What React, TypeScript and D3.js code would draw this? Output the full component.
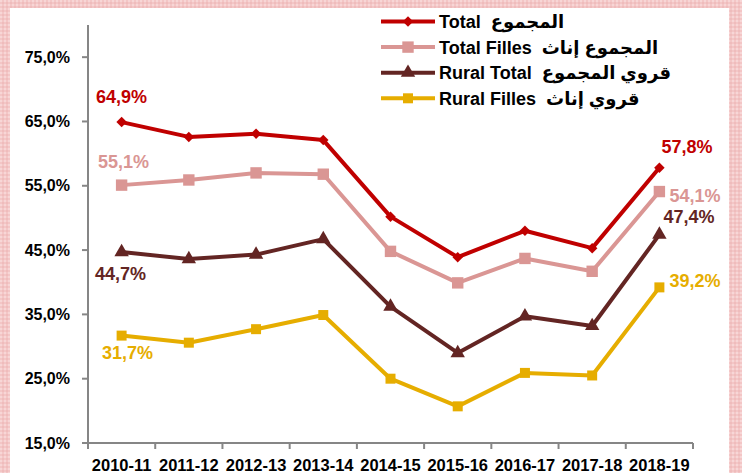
import React, { useEffect, useRef } from "react";
import * as d3 from "d3";

const years = ["2010-11", "2011-12", "2012-13", "2013-14", "2014-15", "2015-16", "2016-17", "2017-18", "2018-19"];
const total = [64.9, 62.6, 63.1, 62.1, 50.2, 43.9, 48.0, 45.3, 57.8];
const totalFilles = [55.1, 55.9, 57.0, 56.8, 44.8, 39.9, 43.7, 41.7, 54.1];
const ruralTotal = [44.7, 43.6, 44.3, 46.7, 36.2, 29.0, 34.7, 33.2, 47.4];
const ruralFilles = [31.7, 30.6, 32.7, 34.9, 25.0, 20.7, 25.9, 25.5, 39.2];
const yTicks = [15, 25, 35, 45, 55, 65, 75];

const seriesNames = ["Total  المجموع", "Total Filles  المجموع إناث", "Rural Total  قروي المجموع", "Rural Filles  قروي إناث"];

const fmt = (v: number) => v.toFixed(1).replace(".", ",") + "%";

const App = () => {
  const ref = useRef<SVGSVGElement>(null);

  useEffect(() => {
    const svg = d3.select(ref.current);
    svg.selectAll("*").remove();

    const W = 742, H = 473;
    const left = 88, right = 693, top = 25, bottom = 443;
    const font = "'Liberation Sans', 'DejaVu Sans', Arial, sans-serif";

    // pink textured frame
    const defs = svg.append("defs");
    const pat = defs.append("pattern").attr("id", "bgpat")
      .attr("width", 4).attr("height", 4).attr("patternUnits", "userSpaceOnUse");
    pat.append("rect").attr("width", 4).attr("height", 4).attr("fill", "#f3c6c6");
    pat.append("rect").attr("width", 2).attr("height", 2).attr("fill", "#f7d6d6");
    pat.append("rect").attr("x", 2).attr("y", 2).attr("width", 2).attr("height", 2).attr("fill", "#efbcbc");
    svg.append("rect").attr("width", W).attr("height", H).attr("fill", "url(#bgpat)");
    svg.append("rect").attr("x", 10).attr("y", 8).attr("width", 719).attr("height", H).attr("fill", "#fff");

    const x = d3.scaleBand().domain(years).range([left, right]);
    const y = d3.scaleLinear().domain([15, 80]).range([bottom, top]);
    const cx = (i: number) => (x(years[i]) as number) + x.bandwidth() / 2;

    // y axis
    svg.append("line").attr("x1", left).attr("x2", left).attr("y1", top).attr("y2", bottom)
      .attr("stroke", "#868686").attr("stroke-width", 2);
    yTicks.forEach(t => {
      svg.append("line").attr("x1", left - 6).attr("x2", left).attr("y1", y(t)).attr("y2", y(t))
        .attr("stroke", "#868686").attr("stroke-width", 2);
      svg.append("text").attr("x", 70).attr("y", y(t) + 5.5).attr("text-anchor", "end")
        .attr("font-family", font).attr("font-weight", "bold").attr("font-size", 16)
        .attr("fill", "#000").text(fmt(t));
    });

    // x axis
    svg.append("line").attr("x1", left).attr("x2", right).attr("y1", bottom).attr("y2", bottom)
      .attr("stroke", "#868686").attr("stroke-width", 2);
    years.forEach((yr, i) => {
      const x0 = x(yr) as number;
      svg.append("line").attr("x1", x0).attr("x2", x0).attr("y1", bottom).attr("y2", bottom + 6)
        .attr("stroke", "#868686").attr("stroke-width", 2);
      svg.append("text").attr("x", cx(i)).attr("y", 471).attr("text-anchor", "middle")
        .attr("font-family", font).attr("font-weight", "bold").attr("font-size", 16.5)
        .attr("fill", "#000").text(yr);
    });
    svg.append("line").attr("x1", right).attr("x2", right).attr("y1", bottom).attr("y2", bottom + 6)
      .attr("stroke", "#868686").attr("stroke-width", 2);

    const series = [
      { values: total, color: "#c00000", marker: d3.symbolDiamond2, size: 70, first: [0, -19, "middle"], last: [2, -15, "start"] },
      { values: totalFilles, color: "#da9694", marker: d3.symbolSquare, size: 130, first: [2, -17, "middle"], last: [10, 10, "start"] },
      { values: ruralTotal, color: "#632523", marker: d3.symbolTriangle, size: 90, first: [-1, 28, "middle"], last: [4, -12, "start"] },
      { values: ruralFilles, color: "#e6ad00", marker: d3.symbolSquare, size: 100, first: [6, 23, "middle"], last: [10, 0, "start"] },
    ];

    const line = d3.line<number>().x((d, i) => cx(i)).y(d => y(d));

    series.forEach(s => {
      svg.append("path").attr("d", line(s.values) as string).attr("fill", "none")
        .attr("stroke", s.color).attr("stroke-width", 4).attr("stroke-linejoin", "round");
      s.values.forEach((v, i) => {
        svg.append("path").attr("d", d3.symbol().type(s.marker).size(s.size)() as string)
          .attr("transform", `translate(${cx(i)},${y(v)})`).attr("fill", s.color);
      });
      const n = s.values.length - 1;
      [[0, s.first], [n, s.last]].forEach(([i, off]: any) => {
        svg.append("text").attr("x", cx(i) + off[0]).attr("y", y(s.values[i]) + off[1])
          .attr("text-anchor", off[2])
          .attr("font-family", font).attr("font-weight", "bold").attr("font-size", 18)
          .attr("fill", s.color).text(fmt(s.values[i]));
      });
    });

    // legend
    series.forEach((s, k) => {
      const ly = 21.5 + k * 25.6;
      svg.append("line").attr("x1", 381).attr("x2", 435).attr("y1", ly).attr("y2", ly)
        .attr("stroke", s.color).attr("stroke-width", 4);
      svg.append("path").attr("d", d3.symbol().type(s.marker).size(s.size)() as string)
        .attr("transform", `translate(408,${ly})`).attr("fill", s.color);
      svg.append("text").attr("x", 439).attr("y", ly + 6.5).attr("direction", "ltr")
        .attr("font-family", font).attr("font-weight", "bold").attr("font-size", 18)
        .attr("fill", "#000").style("white-space", "pre").text(seriesNames[k]);
    });
  }, []);

  return <svg ref={ref} width={742} height={473} style={{ position: "absolute", left: 0, top: 0 }}></svg>;
};

export default App;
